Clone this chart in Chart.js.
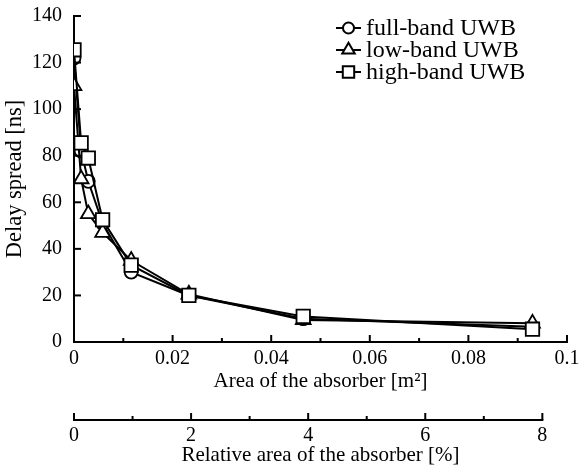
<!DOCTYPE html>
<html>
<head>
<meta charset="utf-8">
<script src="https://cdn.jsdelivr.net/npm/chart.js@4.4.0/dist/chart.umd.min.js"></script>
<style>
  html, body { margin: 0; padding: 0; background: #fff; }
</style>
</head>
<body>
<canvas id="myChart" width="579" height="469"></canvas>
<script>
// absorber area [m^2] for each measurement
const areas = [0, 0.00145, 0.0029, 0.0058, 0.0116, 0.0233, 0.0465, 0.093];
// delay spread [ns]
const fullBand = [122, 82, 69, 51, 30, 20, 10, 6.5];
const lowBand = [110, 70, 55, 47, 35, 20.5, 9.5, 8];
const highBand = [125.5, 85.5, 79, 52.5, 33, 20, 11, 5.5];

const seriesNames = ['full-band UWB', 'low-band UWB', 'high-band UWB'];
const yTicks = [0, 20, 40, 60, 80, 100, 120, 140];
const areaTicks = [0, 0.02, 0.04, 0.06, 0.08, 0.1];
const relTicks = [0, 2, 4, 6, 8];

const serif = 'Liberation Serif';
const markers = [
    { pointStyle: 'circle', radius: 6.5 },
    { pointStyle: 'triangle', radius: 8.5 },
    { pointStyle: 'rect', radius: 9.5 },
];

function series(values) {
    return values.map((v, i) => ({ x: areas[i], y: v }));
}

function makeDataset(i, values, order) {
    return {
        label: seriesNames[i],
        data: series(values),
        showLine: true,
        borderColor: 'black',
        borderWidth: 2,
        pointStyle: markers[i].pointStyle,
        pointRadius: markers[i].radius,
        pointBackgroundColor: 'white',
        pointBorderColor: 'black',
        pointBorderWidth: 1.8,
        order: order,
    };
}

// ticks pointing into the plot, plus the second (relative area) axis line
const inwardTicks = {
    id: 'inwardTicks',
    afterDraw(chart) {
        const ctx = chart.ctx;
        const area = chart.chartArea;
        const x = chart.scales.x;
        const y = chart.scales.y;
        const x2 = chart.scales.x2;
        ctx.save();
        ctx.strokeStyle = 'black';
        ctx.lineWidth = 2;
        ctx.lineCap = 'butt';

        function seg(x0, y0, x1, y1) {
            ctx.beginPath();
            ctx.moveTo(x0, y0);
            ctx.lineTo(x1, y1);
            ctx.stroke();
        }

        for (let i = 0; i < areaTicks.length; i++) {
            let px = x.getPixelForValue(areaTicks[i]);
            seg(px, area.bottom, px, area.bottom - 7);
            if (i < areaTicks.length - 1) {
                let mid = x.getPixelForValue((areaTicks[i] + areaTicks[i + 1]) / 2);
                seg(mid, area.bottom, mid, area.bottom - 4);
            }
        }
        yTicks.forEach(v => {
            let py = y.getPixelForValue(v);
            seg(area.left, py, area.left + 7, py);
        });

        let lineY = x2.top + 22;
        let first = x2.getPixelForValue(relTicks[0]);
        let last = x2.getPixelForValue(relTicks[relTicks.length - 1]);
        seg(first - 1, lineY, last + 1, lineY);
        for (let i = 0; i < relTicks.length; i++) {
            let px = x2.getPixelForValue(relTicks[i]);
            seg(px, lineY, px, lineY - 7);
            if (i < relTicks.length - 1) {
                let mid = x2.getPixelForValue((relTicks[i] + relTicks[i + 1]) / 2);
                seg(mid, lineY, mid, lineY - 4);
            }
        }
        ctx.restore();
    }
};

// legend in the upper right corner: line through marker, then name
const cornerLegend = {
    id: 'cornerLegend',
    afterDraw(chart) {
        const ctx = chart.ctx;
        const rows = [28, 50, 72];
        ctx.save();
        ctx.strokeStyle = 'black';
        ctx.lineWidth = 2;
        seriesNames.forEach((name, i) => {
            let cy = rows[i];
            ctx.beginPath();
            ctx.moveTo(336, cy);
            ctx.lineTo(361, cy);
            ctx.stroke();
            ctx.fillStyle = 'white';
            Chart.helpers.drawPoint(ctx, {
                pointStyle: markers[i].pointStyle,
                radius: markers[i].radius * 0.85,
                borderWidth: 1.8,
                rotation: 0
            }, 348.5, cy);
            ctx.fillStyle = 'black';
            ctx.font = '24px "' + serif + '"';
            ctx.textBaseline = 'middle';
            ctx.textAlign = 'left';
            ctx.fillText(name, 366, cy + 1);
        });
        ctx.restore();
    }
};

const ctx = document.getElementById('myChart');

new Chart(ctx, {
    type: 'scatter',
    data: {
        datasets: [
            makeDataset(0, fullBand, 2),
            makeDataset(1, lowBand, 1),
            makeDataset(2, highBand, 0),
        ]
    },
    options: {
        responsive: false,
        animation: false,
        events: [],
        layout: {
            padding: { top: 16, right: 12, bottom: 0, left: 0 }
        },
        plugins: {
            legend: { display: false },
            tooltip: { enabled: false }
        },
        scales: {
            x: {
                type: 'linear',
                position: 'bottom',
                weight: 0,
                min: 0,
                max: 0.1,
                afterBuildTicks: s => { s.ticks = areaTicks.map(v => ({ value: v })); },
                afterFit: s => { s.height = 56; s.paddingLeft = 0; s.paddingRight = 0; },
                grid: { display: false, drawTicks: false },
                border: { display: true, color: 'black', width: 2 },
                ticks: {
                    color: 'black',
                    padding: 5,
                    maxRotation: 0,
                    font: { family: serif, size: 20 },
                    callback: v => String(+v.toFixed(2))
                },
                title: {
                    display: true,
                    text: 'Area of the absorber [m²]',
                    color: 'black',
                    font: { family: serif, size: 21 },
                    padding: { top: 0, bottom: 4 }
                }
            },
            x2: {
                type: 'linear',
                position: 'bottom',
                weight: 1,
                min: 0,
                max: 8 / 0.95,
                afterBuildTicks: s => { s.ticks = relTicks.map(v => ({ value: v })); },
                afterFit: s => { s.height = 71; s.paddingLeft = 0; s.paddingRight = 0; },
                grid: { display: false, drawTicks: false },
                border: { display: false },
                ticks: {
                    color: 'black',
                    padding: 26,
                    maxRotation: 0,
                    font: { family: serif, size: 20 }
                },
                title: {
                    display: true,
                    text: 'Relative area of the absorber [%]',
                    color: 'black',
                    font: { family: serif, size: 21 },
                    padding: { top: 0, bottom: 1 }
                }
            },
            y: {
                type: 'linear',
                min: 0,
                max: 140,
                afterBuildTicks: s => { s.ticks = yTicks.map(v => ({ value: v })); },
                afterFit: s => { s.width = 74; s.paddingTop = 0; s.paddingBottom = 0; },
                grid: { display: false, drawTicks: false },
                border: { display: true, color: 'black', width: 2 },
                ticks: {
                    color: 'black',
                    padding: 12,
                    font: { family: serif, size: 20 }
                },
                title: {
                    display: true,
                    text: 'Delay spread [ns]',
                    color: 'black',
                    font: { family: serif, size: 22.5 },
                    padding: { top: 2, bottom: 0 }
                }
            }
        }
    },
    plugins: [inwardTicks, cornerLegend]
});
</script>
</body>
</html>
